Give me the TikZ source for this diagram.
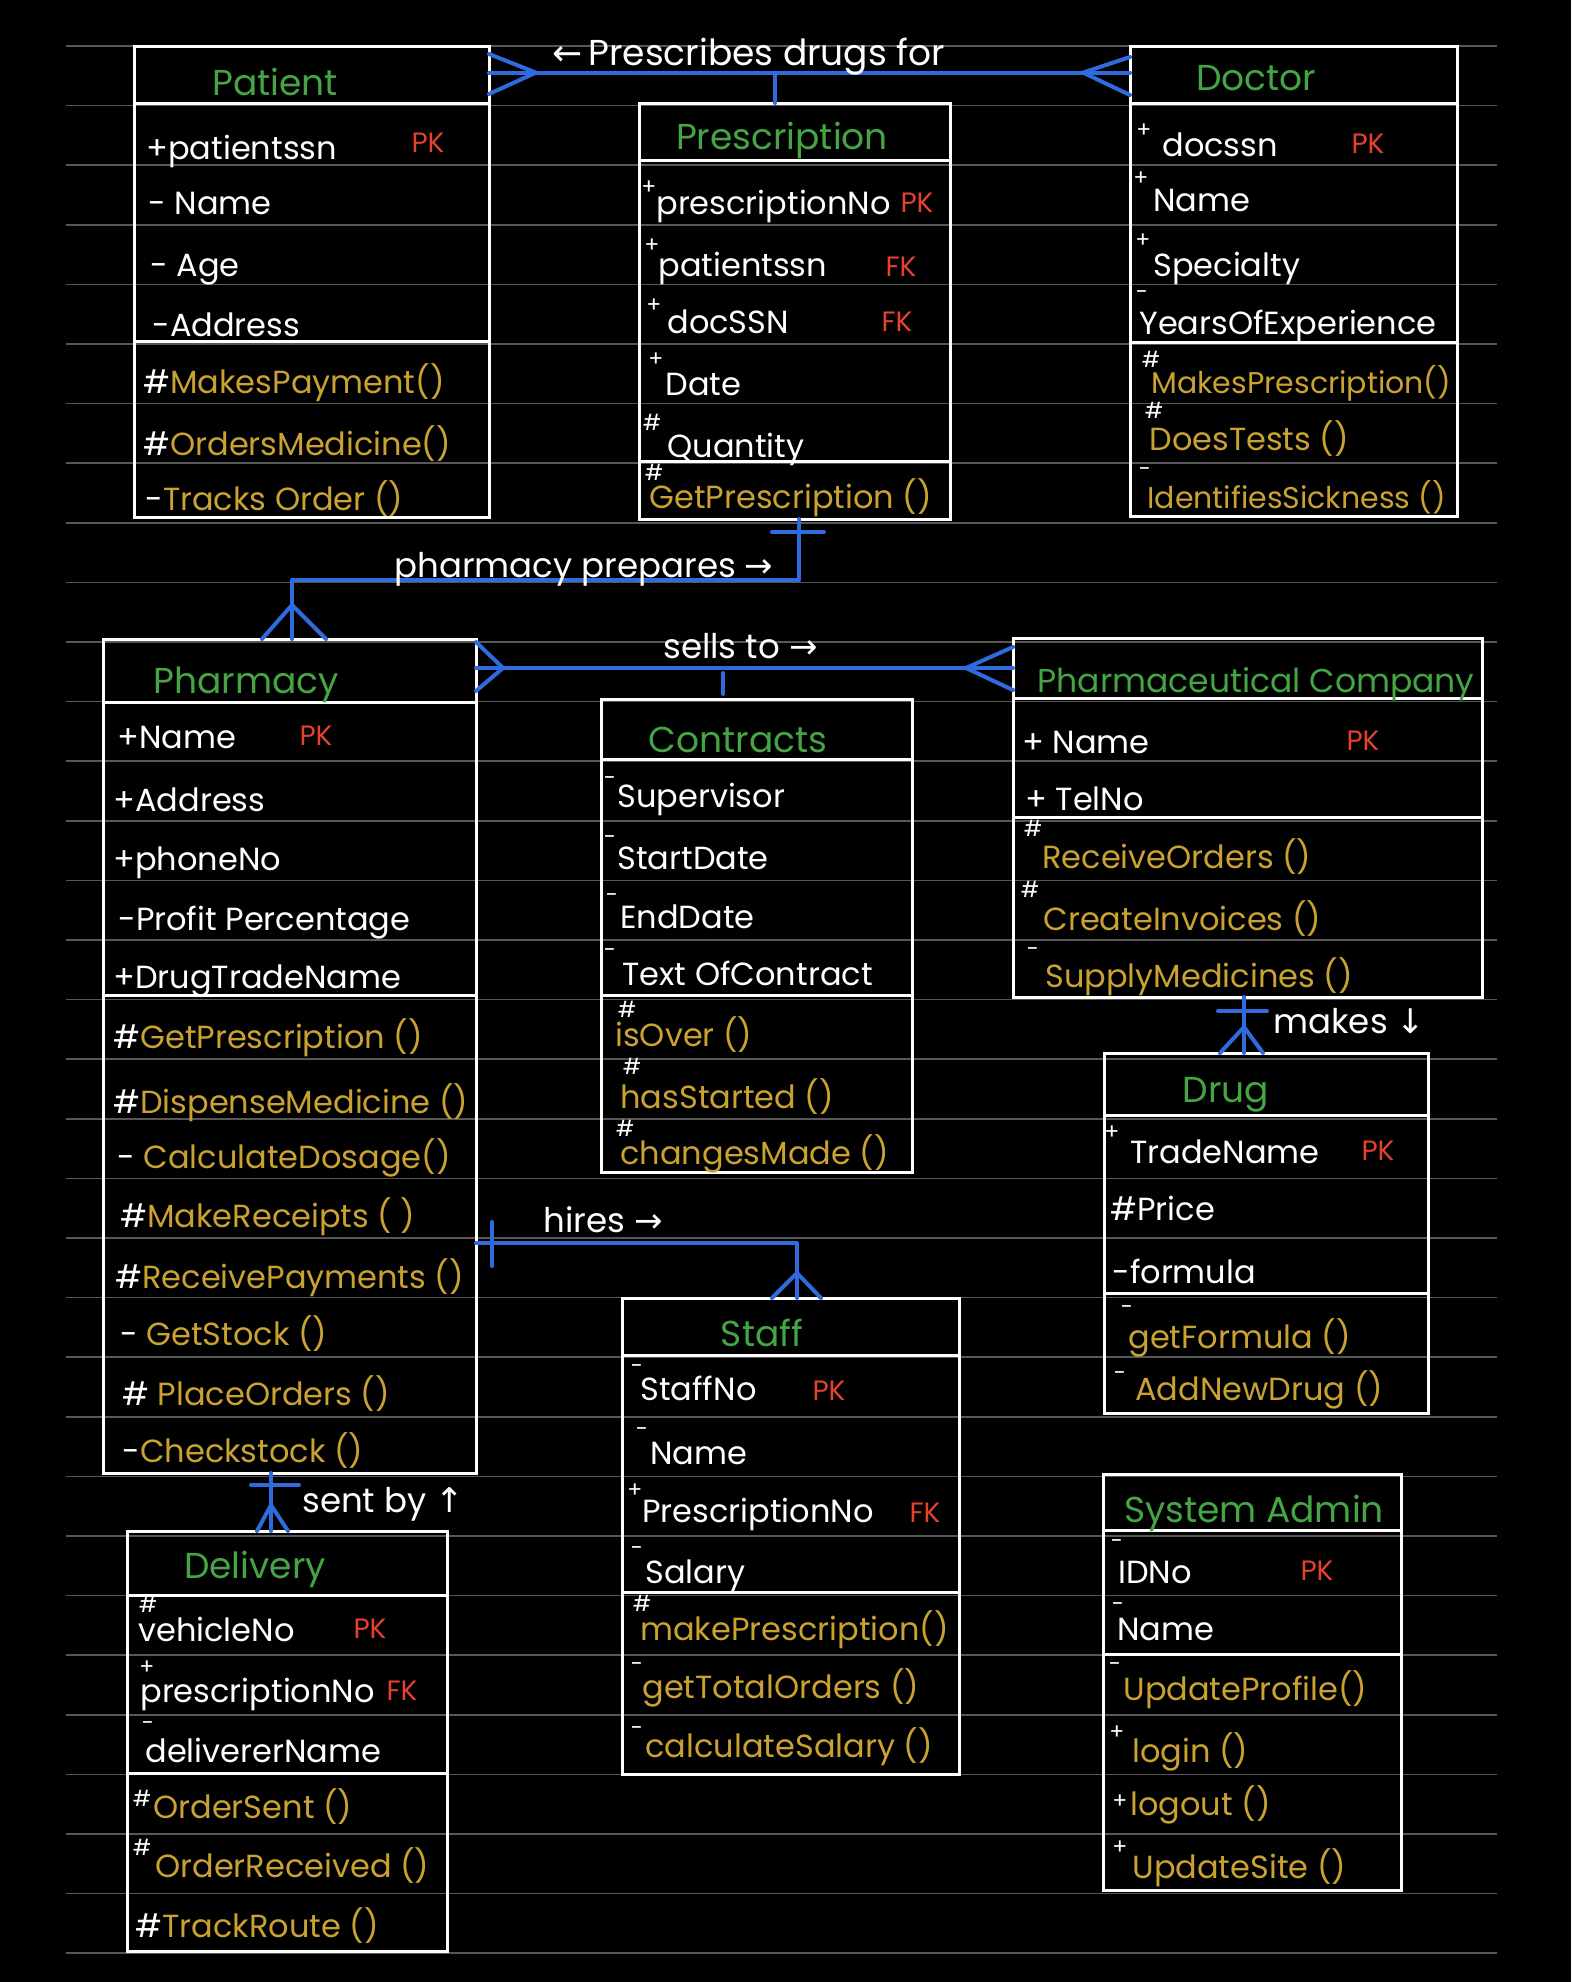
\documentclass[tikz,border=0pt]{standalone}
\usepackage{fontspec}
\setmainfont{Poppins}
\newfontfamily\arrowfont{DejaVu Sans}
\usetikzlibrary{arrows.meta, positioning}
\definecolor{rulegray}{HTML}{575757}
\definecolor{titlegreen}{HTML}{45A545}
\definecolor{keyred}{HTML}{E5412F}
\definecolor{methodgold}{HTML}{C9A232}
\definecolor{relblue}{HTML}{2F6BDC}

\begin{document}
\begin{tikzpicture}[x=0.5pt, y=-0.5pt,
    classbox/.style 2 args={draw=white, line width=1.5pt, inner sep=0pt, outer sep=0pt, anchor=north west, minimum width=#1*0.5pt, minimum height=#2*0.5pt},
    classline/.style={draw=white, line width=1.5pt},
    rel/.style={draw=relblue, line width=2pt, line join=round, line cap=round},
    ruledline/.style={draw=rulegray, line width=0.75pt},
    classtitle/.style={text=titlegreen, anchor=base, inner sep=0pt, font=\fontsize{18}{20}\selectfont},
    attrtext/.style={text=white, anchor=base west, inner sep=0pt, font=\fontsize{16}{18}\selectfont},
    methtext/.style={attrtext, text=methodgold},
    tighttext/.style={font=\fontsize{15}{17}\selectfont},
    keytext/.style={text=keyred, anchor=base, inner sep=0pt, font=\fontsize{14}{16}\selectfont},
    symtext/.style={text=white, inner sep=0pt, font=\fontsize{11}{11}\selectfont},
    reltext/.style={text=white, anchor=base west, inner sep=0pt, font=\fontsize{17}{19}\selectfont}]

    % Page and ruled lines
    \fill[black] (0,0) rectangle (1571,1982);
    \useasboundingbox (0,0) rectangle (1571,1982);
    \foreach \k in {0,...,32}
        \draw[ruledline] (66,{46+59.6*\k}) -- (1497,{46+59.6*\k});

    % Patient
    \node[classbox={355}{471}] (patient) at (134,46) {};
    \draw[classline] (patient.west |- 0,103) -- (patient.east |- 0,103);
    \draw[classline] (patient.west |- 0,341) -- (patient.east |- 0,341);
    \node[classtitle] (patient-t) at (275,95) {Patient};
    \node[attrtext] (patient-a1) at (146,159) {+patientssn};
    \node[keytext] (patient-k1) at (428,152) {PK};
    \node[attrtext] (patient-a2) at (148,214) {- Name};
    \node[attrtext] (patient-a3) at (150,276) {- Age};
    \node[attrtext] (patient-a4) at (152,336) {-Address};
    \node[methtext] (patient-m1) at (143,393) {{\color{white}\#}MakesPayment()};
    \node[methtext] (patient-m2) at (143,455) {{\color{white}\#}OrdersMedicine()};
    \node[methtext] (patient-m3) at (145,510) {{\color{white}-}Tracks Order ()};

    % Prescription
    \node[classbox={311}{416}] (prescription) at (639,103) {};
    \draw[classline] (prescription.west |- 0,160) -- (prescription.east |- 0,160);
    \draw[classline] (prescription.west |- 0,461) -- (prescription.east |- 0,461);
    \node[classtitle] (prescription-t) at (782,149) {Prescription};
    \node[symtext] (prescription-s1) at (649,188) {+};
    \node[attrtext] (prescription-a1) at (656,214) {prescriptionNo};
    \node[keytext] (prescription-k1) at (917,212) {PK};
    \node[symtext] (prescription-s2) at (652,246) {+};
    \node[attrtext] (prescription-a2) at (658,276) {patientssn};
    \node[keytext] (prescription-k2) at (901,276) {FK};
    \node[symtext] (prescription-s3) at (654,306) {+};
    \node[attrtext] (prescription-a3) at (667,333) {docSSN};
    \node[keytext] (prescription-k3) at (897,331) {FK};
    \node[symtext] (prescription-s4) at (656,360) {+};
    \node[attrtext] (prescription-a4) at (665,395) {Date};
    \node[symtext] (prescription-s5) at (652,422) {\#};
    \node[attrtext] (prescription-a5) at (667,457) {Quantity};
    \node[symtext] (prescription-s6) at (654,472) {\#};
    \node[methtext] (prescription-m1) at (649,508) {GetPrescription ()};

    % Doctor
    \node[classbox={327}{470}] (doctor) at (1130,46) {};
    \draw[classline] (doctor.west |- 0,103) -- (doctor.east |- 0,103);
    \draw[classline] (doctor.west |- 0,342) -- (doctor.east |- 0,342);
    \node[classtitle] (doctor-t) at (1256,90) {Doctor};
    \node[symtext] (doctor-s1) at (1144,131) {+};
    \node[attrtext] (doctor-a1) at (1162,156) {docssn};
    \node[keytext] (doctor-k1) at (1368,153) {PK};
    \node[symtext] (doctor-s2) at (1141,179) {+};
    \node[attrtext] (doctor-a2) at (1153,211) {Name};
    \node[symtext] (doctor-s3) at (1143,241) {+};
    \node[attrtext] (doctor-a3) at (1153,276) {Specialty};
    \node[symtext] (doctor-s4) at (1142,295) {-};
    \node[attrtext] (doctor-a4) at (1139,334) {YearsOfExperience};
    \node[symtext] (doctor-s5) at (1151,359) {\#};
    \node[methtext, tighttext] (doctor-m1) at (1151,393) {MakesPrescription()};
    \node[symtext] (doctor-s6) at (1154,410) {\#};
    \node[methtext] (doctor-m2) at (1149,450) {DoesTests ()};
    \node[symtext] (doctor-s7) at (1145,472) {-};
    \node[methtext, tighttext] (doctor-m3) at (1147,508) {IdentifiesSickness ()};

    % Pharmacy
    \node[classbox={373}{834}] (pharmacy) at (103,639) {};
    \draw[classline] (pharmacy.west |- 0,702) -- (pharmacy.east |- 0,702);
    \draw[classline] (pharmacy.west |- 0,995) -- (pharmacy.east |- 0,995);
    \node[classtitle] (pharmacy-t) at (246,693) {Pharmacy};
    \node[attrtext] (pharmacy-a1) at (117,748) {+Name};
    \node[keytext] (pharmacy-k1) at (316,745) {PK};
    \node[attrtext] (pharmacy-a2) at (113,811) {+Address};
    \node[attrtext] (pharmacy-a3) at (113,870) {+phoneNo};
    \node[attrtext] (pharmacy-a4) at (118,930) {-Profit Percentage};
    \node[attrtext] (pharmacy-a5) at (113,988) {+DrugTradeName};
    \node[methtext] (pharmacy-m1) at (113,1048) {{\color{white}\#}GetPrescription ()};
    \node[methtext] (pharmacy-m2) at (113,1113) {{\color{white}\#}DispenseMedicine ()};
    \node[methtext] (pharmacy-m3) at (117,1168) {{\color{white}-} CalculateDosage()};
    \node[methtext] (pharmacy-m4) at (120,1227) {{\color{white}\#}MakeReceipts ( )};
    \node[methtext] (pharmacy-m5) at (115,1288) {{\color{white}\#}ReceivePayments ()};
    \node[methtext] (pharmacy-m6) at (120,1345) {{\color{white}-} GetStock ()};
    \node[methtext] (pharmacy-m7) at (122,1405) {{\color{white}\#} PlaceOrders ()};
    \node[methtext] (pharmacy-m8) at (122,1462) {{\color{white}-}Checkstock ()};

    % Contracts
    \node[classbox={311}{473}] (contracts) at (601,699) {};
    \draw[classline] (contracts.west |- 0,759) -- (contracts.east |- 0,759);
    \draw[classline] (contracts.west |- 0,995) -- (contracts.east |- 0,995);
    \node[classtitle] (contracts-t) at (738,752) {Contracts};
    \node[symtext] (contracts-s1) at (610,781) {-};
    \node[attrtext] (contracts-a1) at (617,807) {Supervisor};
    \node[symtext] (contracts-s2) at (610,840) {-};
    \node[attrtext] (contracts-a2) at (617,869) {StartDate};
    \node[symtext] (contracts-s3) at (612,898) {-};
    \node[attrtext] (contracts-a3) at (620,928) {EndDate};
    \node[symtext] (contracts-s4) at (610,953) {-};
    \node[attrtext] (contracts-a4) at (622,985) {Text OfContract};
    \node[symtext] (contracts-s5) at (627,1009) {\#};
    \node[methtext] (contracts-m1) at (615,1046) {isOver ()};
    \node[symtext] (contracts-s6) at (632,1066) {\#};
    \node[methtext] (contracts-m2) at (620,1108) {hasStarted ()};
    \node[symtext] (contracts-s7) at (625,1128) {\#};
    \node[methtext] (contracts-m3) at (620,1164) {changesMade ()};

    % Pharmaceutical Company
    \node[classbox={469}{359}] (pharmco) at (1013,638) {};
    \draw[classline] (pharmco.west |- 0,698) -- (pharmco.east |- 0,698);
    \draw[classline] (pharmco.west |- 0,817) -- (pharmco.east |- 0,817);
    \node[classtitle, font=\fontsize{16.5}{18}\selectfont] (pharmco-t) at (1256,692) {Pharmaceutical Company};
    \node[attrtext] (pharmco-a1) at (1022,753) {+ Name};
    \node[keytext] (pharmco-k1) at (1363,750) {PK};
    \node[attrtext] (pharmco-a2) at (1025,810) {+ TelNo};
    \node[symtext] (pharmco-s1) at (1033,828) {\#};
    \node[methtext] (pharmco-m1) at (1042,868) {ReceiveOrders ()};
    \node[symtext] (pharmco-s2) at (1030,889) {\#};
    \node[methtext] (pharmco-m2) at (1043,930) {CreateInvoices ()};
    \node[symtext] (pharmco-s3) at (1033,952) {-};
    \node[methtext] (pharmco-m3) at (1045,987) {SupplyMedicines ()};

    % Drug
    \node[classbox={324}{360}] (drug) at (1104,1053) {};
    \draw[classline] (drug.west |- 0,1115) -- (drug.east |- 0,1115);
    \draw[classline] (drug.west |- 0,1293) -- (drug.east |- 0,1293);
    \node[classtitle] (drug-t) at (1226,1102) {Drug};
    \node[symtext] (drug-s1) at (1112,1133) {+};
    \node[attrtext] (drug-a1) at (1130,1163) {TradeName};
    \node[keytext] (drug-k1) at (1378,1160) {PK};
    \node[attrtext] (drug-a2) at (1110,1220) {\#Price};
    \node[attrtext] (drug-a3) at (1112,1283) {-formula};
    \node[symtext] (drug-s2) at (1127,1310) {-};
    \node[methtext] (drug-m1) at (1128,1348) {getFormula ()};
    \node[symtext] (drug-s3) at (1120,1376) {-};
    \node[methtext] (drug-m2) at (1135,1400) {AddNewDrug ()};

    % Staff
    \node[classbox={337}{476}] (staff) at (622,1298) {};
    \draw[classline] (staff.west |- 0,1355) -- (staff.east |- 0,1355);
    \draw[classline] (staff.west |- 0,1592) -- (staff.east |- 0,1592);
    \node[classtitle] (staff-t) at (762,1346) {Staff};
    \node[symtext] (staff-s1) at (637,1369) {-};
    \node[attrtext] (staff-a1) at (640,1400) {StaffNo};
    \node[keytext] (staff-k1) at (829,1400) {PK};
    \node[symtext] (staff-s2) at (642,1432) {-};
    \node[attrtext] (staff-a2) at (650,1464) {Name};
    \node[symtext] (staff-s3) at (635,1491) {+};
    \node[attrtext] (staff-a3) at (642,1522) {PrescriptionNo};
    \node[keytext] (staff-k3) at (925,1522) {FK};
    \node[symtext] (staff-s4) at (637,1551) {-};
    \node[attrtext] (staff-a4) at (645,1583) {Salary};
    \node[symtext] (staff-s5) at (642,1603) {\#};
    \node[methtext] (staff-m1) at (640,1640) {makePrescription()};
    \node[symtext] (staff-s6) at (637,1667) {-};
    \node[methtext] (staff-m2) at (642,1698) {getTotalOrders ()};
    \node[symtext] (staff-s7) at (637,1731) {-};
    \node[methtext] (staff-m3) at (645,1757) {calculateSalary ()};

    % Delivery
    \node[classbox={320}{420}] (delivery) at (127,1531) {};
    \draw[classline] (delivery.west |- 0,1595) -- (delivery.east |- 0,1595);
    \draw[classline] (delivery.west |- 0,1773) -- (delivery.east |- 0,1773);
    \node[classtitle] (delivery-t) at (255,1578) {Delivery};
    \node[symtext] (delivery-s1) at (148,1604) {\#};
    \node[attrtext] (delivery-a1) at (138,1641) {vehicleNo};
    \node[keytext] (delivery-k1) at (370,1638) {PK};
    \node[symtext] (delivery-s2) at (147,1668) {+};
    \node[attrtext] (delivery-a2) at (140,1702) {prescriptionNo};
    \node[keytext] (delivery-k2) at (402,1700) {FK};
    \node[symtext] (delivery-s3) at (148,1726) {-};
    \node[attrtext] (delivery-a3) at (145,1762) {delivererName};
    \node[symtext] (delivery-s4) at (142,1798) {\#};
    \node[methtext] (delivery-m1) at (153,1818) {OrderSent ()};
    \node[symtext] (delivery-s5) at (142,1847) {\#};
    \node[methtext] (delivery-m2) at (155,1877) {OrderReceived ()};
    \node[methtext] (delivery-m3) at (135,1937) {{\color{white}\#}TrackRoute ()};

    % System Admin
    \node[classbox={298}{416}] (sysadmin) at (1103,1474) {};
    \draw[classline] (sysadmin.west |- 0,1530) -- (sysadmin.east |- 0,1530);
    \draw[classline] (sysadmin.west |- 0,1654) -- (sysadmin.east |- 0,1654);
    \node[classtitle] (sysadmin-t) at (1254,1522) {System Admin};
    \node[symtext] (sysadmin-s1) at (1117,1544) {-};
    \node[attrtext] (sysadmin-a1) at (1118,1583) {IDNo};
    \node[keytext] (sysadmin-k1) at (1317,1580) {PK};
    \node[symtext] (sysadmin-s2) at (1118,1607) {-};
    \node[attrtext] (sysadmin-a2) at (1117,1640) {Name};
    \node[symtext] (sysadmin-s3) at (1115,1667) {-};
    \node[methtext] (sysadmin-m1) at (1123,1700) {UpdateProfile()};
    \node[symtext] (sysadmin-s4) at (1117,1733) {+};
    \node[methtext] (sysadmin-m2) at (1132,1762) {login ()};
    \node[symtext] (sysadmin-s5) at (1120,1802) {+};
    \node[methtext] (sysadmin-m3) at (1130,1815) {logout ()};
    \node[symtext] (sysadmin-s6) at (1120,1848) {+};
    \node[methtext] (sysadmin-m4) at (1132,1878) {UpdateSite ()};

    % Relationships
    \draw[rel] (patient.east |- 0,72.6) -- (doctor.west |- 0,72.6);
    \draw[rel] (patient.east |- 0,54) -- (536,72.6) -- (patient.east |- 0,94);
    \draw[rel] (doctor.west |- 0,57) -- (1083,72.6) -- (doctor.west |- 0,95);
    \draw[rel] (prescription.north -| 775,0) -- (775,72.6);
    \node[reltext, font=\fontsize{18}{20}\selectfont] (prescribes) at (552,65) {{\arrowfont ←}\,Prescribes drugs for};

    \draw[rel] (prescription.south -| 799,0) -- (799,580) -| (pharmacy.north -| 292,0);
    \draw[rel] (772,532) -- (824,532);
    \draw[rel] (pharmacy.north -| 262,0) -- (292,605) -- (pharmacy.north -| 326,0);
    \node[reltext] (prepares) at (394,577) {pharmacy prepares {\arrowfont →}};

    \draw[rel] (pharmacy.east |- 0,668) -- (pharmco.west |- 0,668);
    \draw[rel] (pharmacy.east |- 0,642) -- (503,668) -- (pharmacy.east |- 0,691);
    \draw[rel] (pharmco.west |- 0,647) -- (966,668) -- (pharmco.west |- 0,690);
    \draw[rel, shorten <=2.5pt, shorten >=2.5pt] (contracts.north -| 723,0) -- (723,668);
    \node[reltext] (sellsto) at (663,658) {sells to {\arrowfont →}};

    \draw[rel] (pharmco.south -| 1244,0) -- (drug.north -| 1244,0);
    \draw[rel] (1218,1011) -- (1267,1011);
    \draw[rel] (drug.north -| 1220,0) -- (1244,1027) -- (drug.north -| 1263,0);
    \node[reltext] (makes) at (1273,1033) {makes {\arrowfont ↓}};

    \draw[rel] (pharmacy.east |- 0,1243) -| (staff.north -| 797,0);
    \draw[rel] (492,1222) -- (492,1266);
    \draw[rel] (staff.north -| 772,0) -- (797,1273) -- (staff.north -| 821,0);
    \node[reltext] (hires) at (543,1232) {hires {\arrowfont →}};

    \draw[rel] (pharmacy.south -| 271,0) -- (delivery.north -| 271,0);
    \draw[rel] (251,1485) -- (299,1485);
    \draw[rel] (delivery.north -| 257,0) -- (271,1505) -- (delivery.north -| 288,0);
    \node[reltext] (sentby) at (302,1512) {sent by {\arrowfont ↑}};

\end{tikzpicture}
\end{document}
